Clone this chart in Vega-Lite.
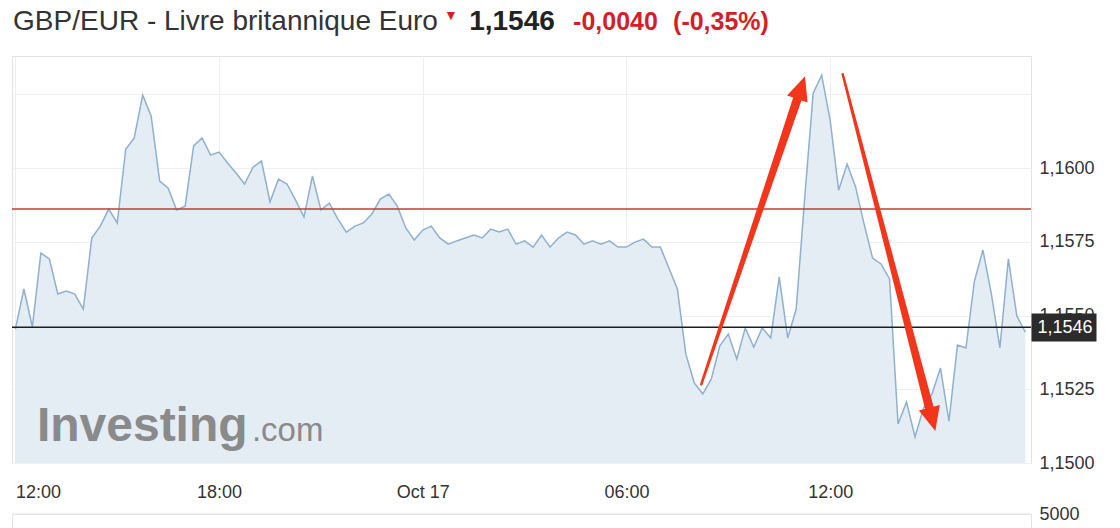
{
  "$schema": "https://vega.github.io/schema/vega-lite/v6.json",
  "padding": {"left": 10, "top": 4, "right": 5, "bottom": 0},
  "background": "white",
  "config": {"font": "Liberation Sans", "view": {"stroke": null}},
  "datasets": {
    "price": [
      {"t": "2019-10-16T12:00:00Z", "v": 1.15454},
      {"t": "2019-10-16T12:15:00Z", "v": 1.15590},
      {"t": "2019-10-16T12:30:00Z", "v": 1.15461},
      {"t": "2019-10-16T12:45:00Z", "v": 1.15712},
      {"t": "2019-10-16T13:00:00Z", "v": 1.15692},
      {"t": "2019-10-16T13:15:00Z", "v": 1.15573},
      {"t": "2019-10-16T13:30:00Z", "v": 1.15583},
      {"t": "2019-10-16T13:45:00Z", "v": 1.15573},
      {"t": "2019-10-16T14:00:00Z", "v": 1.15522},
      {"t": "2019-10-16T14:15:00Z", "v": 1.15763},
      {"t": "2019-10-16T14:30:00Z", "v": 1.15803},
      {"t": "2019-10-16T14:45:00Z", "v": 1.15861},
      {"t": "2019-10-16T15:00:00Z", "v": 1.15814},
      {"t": "2019-10-16T15:15:00Z", "v": 1.16064},
      {"t": "2019-10-16T15:30:00Z", "v": 1.16102},
      {"t": "2019-10-16T15:45:00Z", "v": 1.16247},
      {"t": "2019-10-16T16:00:00Z", "v": 1.16176},
      {"t": "2019-10-16T16:15:00Z", "v": 1.15956},
      {"t": "2019-10-16T16:30:00Z", "v": 1.15932},
      {"t": "2019-10-16T16:45:00Z", "v": 1.15858},
      {"t": "2019-10-16T17:00:00Z", "v": 1.15871},
      {"t": "2019-10-16T17:15:00Z", "v": 1.16075},
      {"t": "2019-10-16T17:30:00Z", "v": 1.16102},
      {"t": "2019-10-16T17:45:00Z", "v": 1.16044},
      {"t": "2019-10-16T18:00:00Z", "v": 1.16054},
      {"t": "2019-10-16T18:15:00Z", "v": 1.16017},
      {"t": "2019-10-16T18:30:00Z", "v": 1.15983},
      {"t": "2019-10-16T18:45:00Z", "v": 1.15946},
      {"t": "2019-10-16T19:00:00Z", "v": 1.16003},
      {"t": "2019-10-16T19:15:00Z", "v": 1.16024},
      {"t": "2019-10-16T19:30:00Z", "v": 1.15885},
      {"t": "2019-10-16T19:45:00Z", "v": 1.15963},
      {"t": "2019-10-16T20:00:00Z", "v": 1.15946},
      {"t": "2019-10-16T20:15:00Z", "v": 1.15892},
      {"t": "2019-10-16T20:30:00Z", "v": 1.15834},
      {"t": "2019-10-16T20:45:00Z", "v": 1.15973},
      {"t": "2019-10-16T21:00:00Z", "v": 1.15858},
      {"t": "2019-10-16T21:15:00Z", "v": 1.15881},
      {"t": "2019-10-16T21:30:00Z", "v": 1.15827},
      {"t": "2019-10-16T21:45:00Z", "v": 1.15783},
      {"t": "2019-10-16T22:00:00Z", "v": 1.15803},
      {"t": "2019-10-16T22:15:00Z", "v": 1.15814},
      {"t": "2019-10-16T22:30:00Z", "v": 1.15844},
      {"t": "2019-10-16T22:45:00Z", "v": 1.15895},
      {"t": "2019-10-16T23:00:00Z", "v": 1.15912},
      {"t": "2019-10-16T23:15:00Z", "v": 1.15871},
      {"t": "2019-10-16T23:30:00Z", "v": 1.15797},
      {"t": "2019-10-16T23:45:00Z", "v": 1.15756},
      {"t": "2019-10-17T00:00:00Z", "v": 1.15790},
      {"t": "2019-10-17T00:15:00Z", "v": 1.15803},
      {"t": "2019-10-17T00:30:00Z", "v": 1.15763},
      {"t": "2019-10-17T00:45:00Z", "v": 1.15742},
      {"t": "2019-10-17T01:00:00Z", "v": 1.15753},
      {"t": "2019-10-17T01:15:00Z", "v": 1.15763},
      {"t": "2019-10-17T01:30:00Z", "v": 1.15773},
      {"t": "2019-10-17T01:45:00Z", "v": 1.15763},
      {"t": "2019-10-17T02:00:00Z", "v": 1.15793},
      {"t": "2019-10-17T02:15:00Z", "v": 1.15783},
      {"t": "2019-10-17T02:30:00Z", "v": 1.15793},
      {"t": "2019-10-17T02:45:00Z", "v": 1.15742},
      {"t": "2019-10-17T03:00:00Z", "v": 1.15753},
      {"t": "2019-10-17T03:15:00Z", "v": 1.15732},
      {"t": "2019-10-17T03:30:00Z", "v": 1.15773},
      {"t": "2019-10-17T03:45:00Z", "v": 1.15732},
      {"t": "2019-10-17T04:00:00Z", "v": 1.15763},
      {"t": "2019-10-17T04:15:00Z", "v": 1.15783},
      {"t": "2019-10-17T04:30:00Z", "v": 1.15773},
      {"t": "2019-10-17T04:45:00Z", "v": 1.15742},
      {"t": "2019-10-17T05:00:00Z", "v": 1.15753},
      {"t": "2019-10-17T05:15:00Z", "v": 1.15742},
      {"t": "2019-10-17T05:30:00Z", "v": 1.15753},
      {"t": "2019-10-17T05:45:00Z", "v": 1.15732},
      {"t": "2019-10-17T06:00:00Z", "v": 1.15732},
      {"t": "2019-10-17T06:15:00Z", "v": 1.15749},
      {"t": "2019-10-17T06:30:00Z", "v": 1.15759},
      {"t": "2019-10-17T06:45:00Z", "v": 1.15732},
      {"t": "2019-10-17T07:00:00Z", "v": 1.15732},
      {"t": "2019-10-17T07:15:00Z", "v": 1.15661},
      {"t": "2019-10-17T07:30:00Z", "v": 1.15590},
      {"t": "2019-10-17T07:45:00Z", "v": 1.15369},
      {"t": "2019-10-17T08:00:00Z", "v": 1.15271},
      {"t": "2019-10-17T08:15:00Z", "v": 1.15234},
      {"t": "2019-10-17T08:30:00Z", "v": 1.15285},
      {"t": "2019-10-17T08:45:00Z", "v": 1.15397},
      {"t": "2019-10-17T09:00:00Z", "v": 1.15437},
      {"t": "2019-10-17T09:15:00Z", "v": 1.15353},
      {"t": "2019-10-17T09:30:00Z", "v": 1.15458},
      {"t": "2019-10-17T09:45:00Z", "v": 1.15393},
      {"t": "2019-10-17T10:00:00Z", "v": 1.15458},
      {"t": "2019-10-17T10:15:00Z", "v": 1.15424},
      {"t": "2019-10-17T10:30:00Z", "v": 1.15631},
      {"t": "2019-10-17T10:45:00Z", "v": 1.15424},
      {"t": "2019-10-17T11:00:00Z", "v": 1.15522},
      {"t": "2019-10-17T11:15:00Z", "v": 1.15898},
      {"t": "2019-10-17T11:30:00Z", "v": 1.16254},
      {"t": "2019-10-17T11:45:00Z", "v": 1.16315},
      {"t": "2019-10-17T12:00:00Z", "v": 1.16163},
      {"t": "2019-10-17T12:15:00Z", "v": 1.15925},
      {"t": "2019-10-17T12:30:00Z", "v": 1.16014},
      {"t": "2019-10-17T12:45:00Z", "v": 1.15936},
      {"t": "2019-10-17T13:00:00Z", "v": 1.15810},
      {"t": "2019-10-17T13:15:00Z", "v": 1.15695},
      {"t": "2019-10-17T13:30:00Z", "v": 1.15675},
      {"t": "2019-10-17T13:45:00Z", "v": 1.15624},
      {"t": "2019-10-17T14:00:00Z", "v": 1.15132},
      {"t": "2019-10-17T14:15:00Z", "v": 1.15207},
      {"t": "2019-10-17T14:30:00Z", "v": 1.15088},
      {"t": "2019-10-17T14:45:00Z", "v": 1.15186},
      {"t": "2019-10-17T15:00:00Z", "v": 1.15234},
      {"t": "2019-10-17T15:15:00Z", "v": 1.15322},
      {"t": "2019-10-17T15:30:00Z", "v": 1.15142},
      {"t": "2019-10-17T15:45:00Z", "v": 1.15400},
      {"t": "2019-10-17T16:00:00Z", "v": 1.15390},
      {"t": "2019-10-17T16:15:00Z", "v": 1.15617},
      {"t": "2019-10-17T16:30:00Z", "v": 1.15722},
      {"t": "2019-10-17T16:45:00Z", "v": 1.15573},
      {"t": "2019-10-17T17:00:00Z", "v": 1.15390},
      {"t": "2019-10-17T17:15:00Z", "v": 1.15692},
      {"t": "2019-10-17T17:30:00Z", "v": 1.15498},
      {"t": "2019-10-17T17:45:00Z", "v": 1.15444}
    ],
    "arrows": [
      {"arrow": "up", "step": 0, "t": "2019-10-17T08:12:18Z", "v": 1.15267},
      {"arrow": "up", "step": 1, "t": "2019-10-17T11:08:48Z", "v": 1.16273},
      {"arrow": "down", "step": 0, "t": "2019-10-17T12:22:12Z", "v": 1.16318},
      {"arrow": "down", "step": 1, "t": "2019-10-17T15:00:36Z", "v": 1.15148}
    ],
    "levels": [
      {"level": "close", "v": 1.1546},
      {"level": "reference", "v": 1.15861}
    ]
  },
  "spacing": 15,
  "vconcat": [
    {
      "spacing": 0,
      "bounds": "flush",
      "hconcat": [
        {
          "width": 427, "height": 36,
          "data": {"values": [{"label": "GBP/EUR - Livre britannique Euro"}]},
          "mark": {"type": "text", "fontSize": 28, "color": "#333333"},
          "encoding": {"text": {"field": "label", "type": "nominal"}}
        },
        {
          "width": 24, "height": 36,
          "data": {"values": [{"label": "▼"}]},
          "mark": {"type": "text", "fontSize": 14, "dy": -6, "color": "#d61e28"},
          "encoding": {"text": {"field": "label", "type": "nominal"}}
        },
        {
          "width": 98, "height": 36,
          "data": {"values": [{"label": "1,1546"}]},
          "mark": {"type": "text", "fontSize": 28, "fontWeight": "bold", "color": "#222222"},
          "encoding": {"text": {"field": "label", "type": "nominal"}}
        },
        {
          "width": 109, "height": 36,
          "data": {"values": [{"label": "-0,0040"}]},
          "mark": {"type": "text", "fontSize": 25, "fontWeight": "bold", "color": "#d61e28"},
          "encoding": {"text": {"field": "label", "type": "nominal"}}
        },
        {
          "width": 102, "height": 36,
          "data": {"values": [{"label": "(-0,35%)"}]},
          "mark": {"type": "text", "fontSize": 25, "fontWeight": "bold", "color": "#d61e28"},
          "encoding": {"text": {"field": "label", "type": "nominal"}}
        }
      ]
    },
    {
      "spacing": 51,
      "bounds": "flush",
      "vconcat": [
        {
          "width": 1019,
          "height": 407,
          "view": {"stroke": "#e2e2e2"},
          "resolve": {"axis": {"y": "independent"}},
          "layer": [
            {
              "data": {"name": "price"},
              "mark": {"type": "area", "fill": "#e4ecf4", "opacity": 1, "clip": true, "line": {"color": "#8fb0cf", "strokeWidth": 1.5}},
              "encoding": {
                "x": {
                  "field": "t", "type": "temporal", "title": null,
                  "scale": {"domain": [1571226840000, 1571334900000], "nice": false},
                  "axis": {
                    "values": [1571227200000, 1571248800000, 1571270400000, 1571292000000, 1571313600000],
                    "labelExpr": "utchours(datum.value) == 0 ? 'Oct 17' : utcFormat(datum.value, '%H:%M')",
                    "grid": true, "gridColor": "#efefef", "ticks": false, "domain": false,
                    "labelPadding": 20, "labelFontSize": 18, "labelColor": "#333333", "labelFlush": 10
                  }
                },
                "y": {
                  "field": "v", "type": "quantitative", "title": null,
                  "scale": {"domain": [1.15, 1.1638], "nice": false, "zero": false},
                  "axis": {
                    "orient": "right",
                    "values": [1.15, 1.1525, 1.155, 1.1575, 1.16, 1.1625],
                    "format": ".4f",
                    "labelExpr": "datum.value > 1.162 ? '' : replace(datum.label, '.', ',')",
                    "grid": true, "gridColor": "#efefef", "ticks": false, "domain": false,
                    "labelPadding": 8, "labelFontSize": 18, "labelColor": "#333333"
                  }
                }
              }
            },
            {
              "data": {"values": [{"word": "Investing"}]},
              "mark": {"type": "text", "align": "left", "baseline": "alphabetic", "fontSize": 48, "fontWeight": "bold", "color": "#8a8a8a"},
              "encoding": {
                "x": {"datum": 1571229480000, "type": "temporal", "title": null},
                "y": {"datum": 1.15075, "type": "quantitative", "title": null, "axis": null},
                "text": {"field": "word", "type": "nominal"}
              }
            },
            {
              "data": {"values": [{"word": ".com"}]},
              "mark": {"type": "text", "align": "left", "baseline": "alphabetic", "fontSize": 33, "color": "#8a8a8a"},
              "encoding": {
                "x": {"datum": 1571252280000, "type": "temporal", "title": null},
                "y": {"datum": 1.15075, "type": "quantitative", "title": null, "axis": null},
                "text": {"field": "word", "type": "nominal"}
              }
            },
            {
              "data": {"name": "levels"},
              "transform": [{"filter": "datum.level == 'reference'"}],
              "mark": {"type": "rule", "color": "#c43a3a", "strokeWidth": 1.5},
              "encoding": {"y": {"field": "v", "type": "quantitative", "title": null, "axis": null}}
            },
            {
              "data": {"name": "levels"},
              "transform": [{"filter": "datum.level == 'close'"}],
              "mark": {"type": "rule", "color": "#1e1e1e", "strokeWidth": 1.5},
              "encoding": {
                "y": {
                  "field": "v", "type": "quantitative", "title": null,
                  "axis": {
                    "orient": "right", "values": [1.1546], "format": ".4f",
                    "labelExpr": "replace(datum.label, '.', ',')",
                    "grid": false, "domain": false, "ticks": true,
                    "tickSize": 65, "tickWidth": 28, "tickColor": "#2b2b2b", "tickCap": "butt",
                    "labelColor": "#ffffff", "labelPadding": -59, "labelFontSize": 18, "labelAlign": "left",
                    "zindex": 3
                  }
                }
              }
            },
            {
              "data": {"name": "arrows"},
              "mark": {"type": "trail", "color": "#f2361c"},
              "encoding": {
                "x": {"field": "t", "type": "temporal", "title": null},
                "y": {"field": "v", "type": "quantitative", "title": null, "axis": null},
                "detail": {"field": "arrow", "type": "nominal"},
                "order": {"field": "step", "type": "quantitative"},
                "size": {"field": "step", "type": "quantitative", "scale": {"domain": [0, 1], "range": [2.5, 9]}, "legend": null}
              }
            },
            {
              "data": {"name": "arrows"},
              "transform": [{"filter": "datum.arrow == 'up' && datum.step == 1"}],
              "mark": {"type": "point", "shape": "M0,-1L-0.9,1L0.9,1Z", "filled": true, "size": 576, "angle": 18.7, "color": "#f2361c", "opacity": 1},
              "encoding": {
                "x": {"field": "t", "type": "temporal", "title": null},
                "y": {"field": "v", "type": "quantitative", "title": null, "axis": null}
              }
            },
            {
              "data": {"name": "arrows"},
              "transform": [{"filter": "datum.arrow == 'down' && datum.step == 1"}],
              "mark": {"type": "point", "shape": "M0,-1L-0.9,1L0.9,1Z", "filled": true, "size": 576, "angle": 165.5, "color": "#f2361c", "opacity": 1},
              "encoding": {
                "x": {"field": "t", "type": "temporal", "title": null},
                "y": {"field": "v", "type": "quantitative", "title": null, "axis": null}
              }
            }
          ]
        },
        {
          "width": 1019,
          "height": 14,
          "view": {"stroke": "#e2e2e2"},
          "data": {"values": [{"volume": 5000}]},
          "mark": {"type": "rule", "color": "#e2e2e2"},
          "encoding": {
            "y": {
              "field": "volume", "type": "quantitative", "title": null,
              "scale": {"domain": [0, 5000], "nice": false},
              "axis": {
                "orient": "right", "values": [5000], "format": "d",
                "grid": false, "ticks": false, "domain": false,
                "labelPadding": 8, "labelFontSize": 18, "labelColor": "#333333"
              }
            }
          }
        }
      ]
    }
  ]
}
